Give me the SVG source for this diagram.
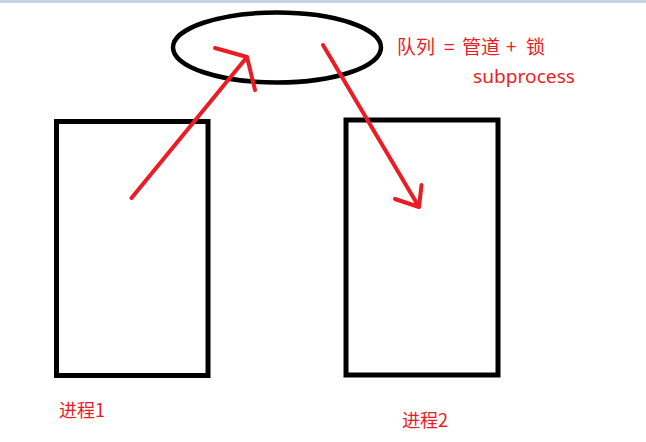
<svg xmlns="http://www.w3.org/2000/svg" width="646" height="442" viewBox="0 0 646 442">
<style>
.box{fill:none;stroke:#000;stroke-width:5}
.arr{fill:none;stroke:#ed1c24;stroke-width:4;stroke-linecap:round;stroke-linejoin:round}
.lbl{fill:#ed1c24;font-family:"Noto Sans CJK SC","Noto Sans",sans-serif;font-size:18px}
.big{font-size:19px}
.en{fill:#ed1c24;font-family:"Noto Sans","Liberation Sans",sans-serif;font-size:18px}
</style>
<rect x="0" y="0" width="646" height="442" fill="#fff"/>
<rect x="0" y="0" width="646" height="3" fill="#c8d2e3"/>
<g id="queue">
<ellipse cx="277" cy="47.5" rx="104" ry="35" fill="none" stroke="#000" stroke-width="4.5"/>
<text class="lbl big" x="397" y="53.5">队列</text>
<text class="lbl big" x="444" y="53.5">=</text>
<text class="lbl big" x="462" y="53.5">管道</text>
<text class="lbl big" x="506" y="53.5">+</text>
<text class="lbl big" x="526" y="53.5">锁</text>
<text class="en" x="473" y="83" textLength="102" lengthAdjust="spacingAndGlyphs">subprocess</text>
</g>
<g id="process1">
<rect class="box" x="56.5" y="121.5" width="151.5" height="254"/>
<text class="lbl" x="59" y="417">进程1</text>
</g>
<g id="process2">
<rect class="box" x="346" y="120" width="152" height="255"/>
<text class="lbl" x="402" y="427">进程2</text>
</g>
<g id="connectors">
<path class="arr" d="M131.5,198 L247,57 M215,48 L247,57 L255,90"/>
<path class="arr" d="M323,45 L419,207 M395,199 L419,207 L421.5,185"/>
</g>
</svg>
